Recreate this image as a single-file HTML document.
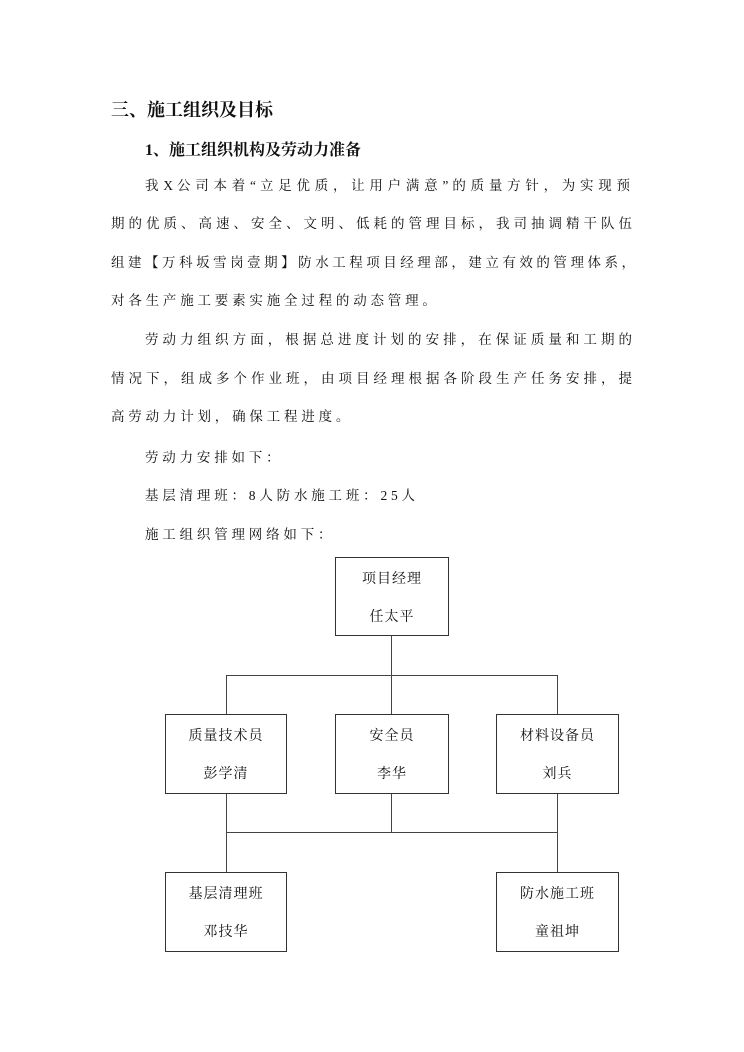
<!DOCTYPE html>
<html><head><meta charset="utf-8"><style>
body{margin:0;background:#fff;}
.p{position:relative;width:744px;height:1052px;overflow:hidden;font-family:"Liberation Serif","Noto Serif CJK SC",serif;color:#111;}
.t{position:absolute;font-size:13.5px;letter-spacing:3.8px;white-space:nowrap;line-height:16px;}
.j{letter-spacing:0;text-align:justify;text-align-last:justify;white-space:normal;}
.h{position:absolute;font-weight:bold;white-space:nowrap;font-family:"Liberation Serif","Noto Serif CJK SC",serif;}
.b{position:absolute;border:1px solid #333;box-sizing:border-box;text-align:center;font-size:14px;font-family:"Liberation Serif","Noto Serif CJK SC",serif;}
.b div{position:absolute;left:0;right:0;letter-spacing:1px;}
.l{position:absolute;background:#444;}
</style></head><body><div class="p">
<div class="h" style="left:111px;top:96px;font-size:18px;">三、施工组织及目标</div>
<div class="h" style="left:145px;top:137px;font-size:16px;">1、施工组织机构及劳动力准备</div>
<div class="t j" style="left:145px;top:178px;width:485px;">我 X 公 司 本 着 “ 立 足 优 质 ， 让 用 户 满 意 ” 的 质 量 方 针 ， 为 实 现 预</div>
<div class="t j" style="left:111px;top:216px;width:521px;">期 的 优 质 、 高 速 、 安 全 、 文 明 、 低 耗 的 管 理 目 标 ， 我 司 抽 调 精 干 队 伍</div>
<div class="t j" style="left:111px;top:255px;width:524px;">组 建 【 万 科 坂 雪 岗 壹 期 】 防 水 工 程 项 目 经 理 部 ， 建 立 有 效 的 管 理 体 系 ，</div>
<div class="t" style="left:111px;top:293px;">对各生产施工要素实施全过程的动态管理。</div>
<div class="t j" style="left:145px;top:332px;width:487px;">劳 动 力 组 织 方 面 ， 根 据 总 进 度 计 划 的 安 排 ， 在 保 证 质 量 和 工 期 的</div>
<div class="t j" style="left:111px;top:371px;width:521px;">情 况 下 ， 组 成 多 个 作 业 班 ， 由 项 目 经 理 根 据 各 阶 段 生 产 任 务 安 排 ， 提</div>
<div class="t" style="left:111px;top:409px;">高劳动力计划，确保工程进度。</div>
<div class="t" style="left:145px;top:450px;">劳动力安排如下：</div>
<div class="t" style="left:145px;top:488px;">基层清理班：8人防水施工班：25人</div>
<div class="t" style="left:145px;top:527px;">施工组织管理网络如下：</div>

<div class="b" style="left:335px;top:557px;width:114px;height:79px;"><div style="top:10px">项目经理</div><div style="top:48px">任太平</div></div>
<div class="l" style="left:391px;top:636px;width:1px;height:78px;"></div>
<div class="l" style="left:226px;top:675px;width:332px;height:1px;"></div>
<div class="l" style="left:226px;top:675px;width:1px;height:39px;"></div>
<div class="l" style="left:557px;top:675px;width:1px;height:39px;"></div>

<div class="b" style="left:165px;top:714px;width:122px;height:80px;"><div style="top:10px">质量技术员</div><div style="top:48px">彭学清</div></div>
<div class="b" style="left:335px;top:714px;width:114px;height:80px;"><div style="top:10px">安全员</div><div style="top:48px">李华</div></div>
<div class="b" style="left:496px;top:714px;width:123px;height:80px;"><div style="top:10px">材料设备员</div><div style="top:48px">刘兵</div></div>

<div class="l" style="left:226px;top:794px;width:1px;height:78px;"></div>
<div class="l" style="left:391px;top:794px;width:1px;height:39px;"></div>
<div class="l" style="left:557px;top:794px;width:1px;height:78px;"></div>
<div class="l" style="left:226px;top:832px;width:332px;height:1px;"></div>

<div class="b" style="left:165px;top:872px;width:122px;height:80px;"><div style="top:10px">基层清理班</div><div style="top:48px">邓技华</div></div>
<div class="b" style="left:496px;top:872px;width:123px;height:80px;"><div style="top:10px">防水施工班</div><div style="top:48px">童祖坤</div></div>
</div></body></html>
